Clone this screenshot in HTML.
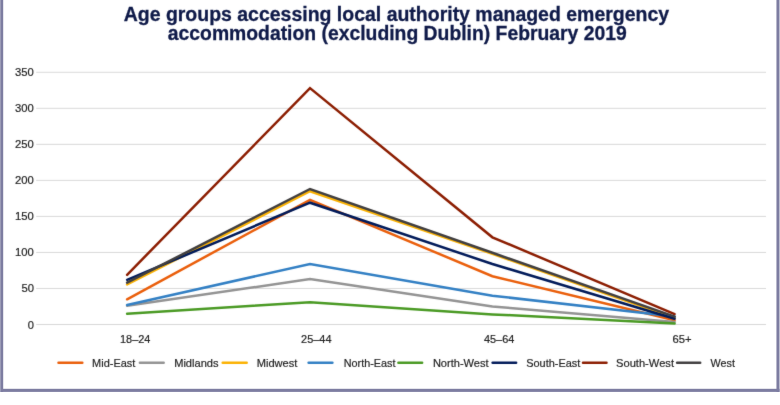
<!DOCTYPE html>
<html lang="en"><head><meta charset="utf-8"><title>Age groups accessing local authority managed emergency accommodation</title>
<style>
html,body{margin:0;padding:0;background:#fff;}
body{width:780px;height:405px;overflow:hidden;}
svg{display:block;}
text{font-family:"Liberation Sans",Arial,Helvetica,sans-serif;}
.t{font-weight:bold;font-size:20px;fill:#0F1A49;stroke:#0F1A49;stroke-width:0.3px;}
.a{font-size:11.8px;fill:#222;stroke:#222;stroke-width:0.2px;}
</style></head><body>
<svg width="780" height="405" viewBox="0 0 780 405">
<rect width="780" height="405" fill="#fff"/>
<defs><filter id="b" filterUnits="userSpaceOnUse" x="0" y="0" width="780" height="405" color-interpolation-filters="sRGB"><feConvolveMatrix order="3" kernelMatrix="0.012 0.065 0.012 0.065 0.692 0.065 0.012 0.065 0.012" divisor="1" edgeMode="duplicate" preserveAlpha="false"/></filter></defs>

<g fill="#7D7DA1">
<rect x="0" y="0" width="3.2" height="391.9"/>
<rect x="776.45" y="0" width="3.05" height="391.9"/>
<rect x="0" y="388.8" width="779.5" height="3.1"/>
</g>
<rect x="0" y="0" width="0.8" height="391.9" fill="#fff" opacity="0.3"/>
<g filter="url(#b)">
<text class="t" x="123.7" y="20.5" textLength="545.4" lengthAdjust="spacingAndGlyphs">Age groups accessing local authority managed emergency</text>
<text class="t" x="167.8" y="40" textLength="459" lengthAdjust="spacingAndGlyphs">accommodation (excluding Dublin) February 2019</text>
<g stroke="#D9D9D9" stroke-width="1">
<line x1="36.2" x2="766.0" y1="324.50" y2="324.50"/>
<line x1="36.2" x2="766.0" y1="288.47" y2="288.47"/>
<line x1="36.2" x2="766.0" y1="252.44" y2="252.44"/>
<line x1="36.2" x2="766.0" y1="216.41" y2="216.41"/>
<line x1="36.2" x2="766.0" y1="180.38" y2="180.38"/>
<line x1="36.2" x2="766.0" y1="144.35" y2="144.35"/>
<line x1="36.2" x2="766.0" y1="108.32" y2="108.32"/>
<line x1="36.2" x2="766.0" y1="72.29" y2="72.29"/>
</g>
<g class="a" text-anchor="end">
<text x="33.9" y="328.50" textLength="6.2" lengthAdjust="spacingAndGlyphs">0</text>
<text x="33.9" y="292.47" textLength="12.5" lengthAdjust="spacingAndGlyphs">50</text>
<text x="33.9" y="256.44" textLength="18.8" lengthAdjust="spacingAndGlyphs">100</text>
<text x="33.9" y="220.41" textLength="18.8" lengthAdjust="spacingAndGlyphs">150</text>
<text x="33.9" y="184.38" textLength="18.8" lengthAdjust="spacingAndGlyphs">200</text>
<text x="33.9" y="148.35" textLength="18.8" lengthAdjust="spacingAndGlyphs">250</text>
<text x="33.9" y="112.32" textLength="18.8" lengthAdjust="spacingAndGlyphs">300</text>
<text x="33.9" y="76.29" textLength="18.8" lengthAdjust="spacingAndGlyphs">350</text>
</g>
<g class="a">
<text x="120.0" y="343.2" textLength="30.4" lengthAdjust="spacingAndGlyphs">18–24</text>
<text x="301.1" y="343.2" textLength="30.4" lengthAdjust="spacingAndGlyphs">25–44</text>
<text x="483.9" y="343.2" textLength="30.4" lengthAdjust="spacingAndGlyphs">45–64</text>
<text x="672.5" y="343.2" textLength="19.1" lengthAdjust="spacingAndGlyphs">65+</text>
</g>
<g fill="none" stroke-width="2.5" stroke-linecap="round" stroke-linejoin="miter">
<polyline stroke="#EA5F0C" points="127.1,299.3 310.0,199.8 492.4,276.2 674.6,320.2"/>
<polyline stroke="#939393" points="127.1,305.8 310.0,279.1 492.4,306.5 674.6,322.0"/>
<polyline stroke="#FBB203" points="127.1,284.5 310.0,191.2 492.4,253.9 674.6,317.7"/>
<polyline stroke="#3380C4" points="127.1,305.0 310.0,264.0 492.4,295.7 674.6,316.6"/>
<polyline stroke="#4A9A24" points="127.1,313.7 310.0,302.2 492.4,314.4 674.6,323.4"/>
<polyline stroke="#021B5A" points="127.1,279.8 310.0,202.7 492.4,264.0 674.6,318.7"/>
<polyline stroke="#8C1E02" points="127.1,274.8 310.0,88.1 492.4,237.3 674.6,314.1"/>
<polyline stroke="#413F40" points="127.1,282.7 310.0,189.0 492.4,252.8 674.6,316.6"/>
</g>
<g stroke-width="2.5" stroke-linecap="round">
<line stroke="#EA5F0C" x1="58.5" x2="82.3" y1="362.7" y2="362.7"/>
<line stroke="#939393" x1="139.9" x2="163.7" y1="362.7" y2="362.7"/>
<line stroke="#FBB203" x1="222.7" x2="246.7" y1="362.7" y2="362.7"/>
<line stroke="#3380C4" x1="308.6" x2="332.4" y1="362.7" y2="362.7"/>
<line stroke="#4A9A24" x1="398.4" x2="422.1" y1="362.7" y2="362.7"/>
<line stroke="#021B5A" x1="492.6" x2="516.1" y1="362.7" y2="362.7"/>
<line stroke="#8C1E02" x1="583.0" x2="606.5" y1="362.7" y2="362.7"/>
<line stroke="#413F40" x1="677.1" x2="700.2" y1="362.7" y2="362.7"/>
</g>
<g class="a">
<text x="92.1" y="366.7" textLength="43.2" lengthAdjust="spacingAndGlyphs">Mid-East</text>
<text x="174.2" y="366.7" textLength="44.3" lengthAdjust="spacingAndGlyphs">Midlands</text>
<text x="256.7" y="366.7" textLength="40.7" lengthAdjust="spacingAndGlyphs">Midwest</text>
<text x="343.8" y="366.7" textLength="51.7" lengthAdjust="spacingAndGlyphs">North-East</text>
<text x="432.9" y="366.7" textLength="55.7" lengthAdjust="spacingAndGlyphs">North-West</text>
<text x="526.2" y="366.7" textLength="54.1" lengthAdjust="spacingAndGlyphs">South-East</text>
<text x="616.0" y="366.7" textLength="58.0" lengthAdjust="spacingAndGlyphs">South-West</text>
<text x="710.6" y="366.7" textLength="24.4" lengthAdjust="spacingAndGlyphs">West</text>
</g>
</g>
</svg></body></html>
